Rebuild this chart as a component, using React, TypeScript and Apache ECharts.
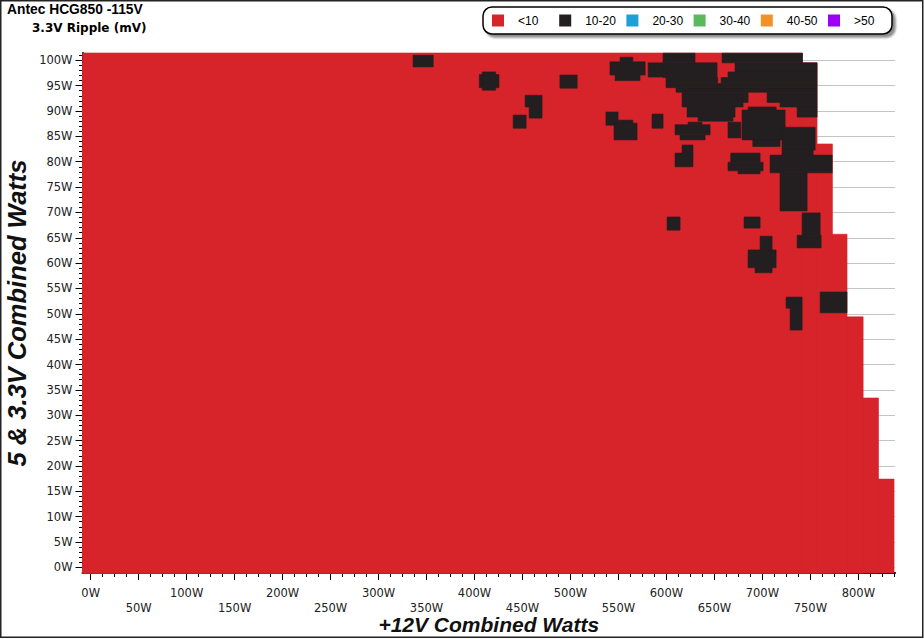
import React, { useEffect, useRef } from "react";
import * as echarts from "echarts";

// ---- axis ranges (watts) ----
const X_MIN = -8.5;
const X_MAX = 838.2;
const Y_MIN = -1.12;
const Y_MAX = 101.44;

// ---- tick labels ----
const xTickValues = [0, 50, 100, 150, 200, 250, 300, 350, 400, 450, 500, 550, 600, 650, 700, 750, 800];
const yTickValues = [0, 5, 10, 15, 20, 25, 30, 35, 40, 45, 50, 55, 60, 65, 70, 75, 80, 85, 90, 95, 100];
const xMinorStep = 12.5;
const yMinorStep = 1;

// ---- legend categories ----
const categories = ["<10", "10-20", "20-30", "30-40", "40-50", ">50"];
const categoryColors = ["#d6242a", "#231f20", "#1ba1d8", "#5cb85c", "#f0922a", "#9c00f5"];

// ---- "<10" region: staircase (top of each band in W, right edge in W) ----
const redStepTop = [17.4, 33.4, 49.4, 65.7, 83.5, 99.5, 101.44];
const redStepMaxX = [837.2, 821, 805, 788.2, 773, 757, 741.8];

// ---- "10-20" cells: [x0, x1, y0, y1] in watts ----
const blackCells = [
  [336, 357, 98.7, 101.0],
  [405, 425.5, 94.6, 97.2],
  [408, 422, 94.1, 97.7],
  [489, 507, 94.5, 97.1],
  [452.8, 470.4, 90.8, 93.1],
  [457, 470.4, 88.6, 90.8],
  [440.3, 453.8, 86.6, 89.2],
  [551.7, 565, 99.7, 100.6],
  [541.2, 577.8, 97.1, 99.7],
  [546.5, 572.5, 96.0, 97.1],
  [581, 600, 96.7, 99.5],
  [596.5, 629.8, 99.5, 101.4],
  [658, 741.8, 99.5, 101.4],
  [596.5, 652.8, 96.6, 99.5],
  [671.5, 757, 97.7, 99.5],
  [664.2, 757, 96.6, 97.7],
  [599.6, 653.5, 95.4, 96.6],
  [657, 757, 95.4, 96.6],
  [599.6, 757, 94.6, 95.4],
  [610, 757, 93.7, 94.6],
  [616.3, 685.1, 91.7, 93.7],
  [704.9, 757, 91.7, 93.7],
  [616.3, 679.9, 90.8, 91.7],
  [718.4, 757, 90.8, 91.7],
  [621.5, 671.5, 88.8, 90.8],
  [736.2, 757, 88.8, 90.8],
  [633, 669.4, 88.0, 88.8],
  [685.1, 714.3, 90.2, 90.8],
  [678.8, 723.7, 84.3, 90.2],
  [690, 718.4, 83.0, 84.3],
  [664.2, 677.5, 84.7, 87.8],
  [720.5, 755, 82.3, 86.8],
  [720.5, 752.9, 81.3, 82.3],
  [708, 772.7, 77.8, 81.3],
  [718.4, 746.6, 70.3, 77.8],
  [667, 697.6, 79.9, 81.7],
  [664.2, 700.7, 78.2, 79.9],
  [674.6, 697.6, 77.6, 78.2],
  [616.3, 627.7, 81.7, 83.3],
  [609, 627.7, 79, 81.7],
  [622.6, 637.1, 87.3, 87.8],
  [609, 645.5, 85.3, 87.3],
  [614.2, 640.3, 84.3, 85.3],
  [585, 596.5, 86.6, 89.4],
  [537, 549.6, 87.2, 89.8],
  [545.4, 569.4, 84.3, 87.6],
  [550, 565, 87.6, 88.2],
  [600.7, 614.2, 66.5, 69.1],
  [680.9, 697.6, 66.9, 69.1],
  [741.4, 760.2, 65.5, 69.9],
  [736.2, 761.2, 63, 65.5],
  [697.6, 710.1, 62.6, 65.3],
  [685.1, 714.3, 59.1, 62.6],
  [692.4, 710.1, 58.1, 59.1],
  [724.7, 741.4, 51.1, 53.3],
  [728.9, 741.4, 46.8, 51.1],
  [760.2, 788.2, 50.2, 54.3],
];

function minorTicks(step: number, max: number) {
  const out: number[] = [];
  for (let v = 0; v <= max + 1e-9; v += step) out.push(Math.round(v * 100) / 100);
  return out;
}

function rectRenderer(color: string) {
  return (params: any, api: any) => {
    const a = api.coord([api.value(0), api.value(3)]);
    const b = api.coord([api.value(1), api.value(2)]);
    return {
      type: "rect",
      shape: { x: a[0], y: a[1], width: b[0] - a[0], height: b[1] - a[1] },
      style: { fill: color, stroke: color, lineWidth: 0.6 },
    };
  };
}

export default function App() {
  const ref = useRef<HTMLDivElement>(null);

  useEffect(() => {
    if (!ref.current) return;
    const chart = echarts.init(ref.current, undefined, { renderer: "svg" });

    // each band drawn from the bottom of the plot up to its top, so bands overlap (no seams)
    const redRows = redStepTop.map((top, i) => [X_MIN, redStepMaxX[i], Y_MIN, top]);

    const tickFont = {
      fontFamily: "DejaVu Sans",
      fontSize: 11.5,
      color: "#222",
    };
    const nameFont = {
      fontFamily: "Liberation Sans",
      fontStyle: "italic",
      fontWeight: "bold",
      color: "#111",
    };

    const series: any[] = categories.map((name, i) => {
      const base: any = {
        name,
        type: "custom",
        xAxisIndex: 0,
        yAxisIndex: 0,
        itemStyle: { color: categoryColors[i] },
        encode: { x: [0, 1], y: [2, 3] },
        silent: true,
        z: 2 + i,
      };
      if (i === 0) {
        base.data = redRows;
        base.renderItem = rectRenderer(categoryColors[0]);
      } else if (i === 1) {
        base.data = blackCells;
        base.renderItem = rectRenderer(categoryColors[1]);
      } else {
        base.data = [];
        base.renderItem = () => null;
      }
      return base;
    });

    // legend drawn as graphic elements (fixed pitch like the reference)
    const LEG_X = 483;
    const LEG_Y = 7;
    const LEG_W = 409;
    const LEG_H = 27;
    const pitch = 67.2;
    const legendChildren: any[] = [
      {
        type: "rect",
        shape: { x: LEG_X, y: LEG_Y, width: LEG_W, height: LEG_H, r: 9 },
        style: {
          fill: "#fff",
          stroke: "#000",
          lineWidth: 1.5,
          shadowColor: "rgba(0,0,0,0.45)",
          shadowOffsetX: 3,
          shadowOffsetY: 3,
          shadowBlur: 2,
        },
      },
    ];
    categories.forEach((name, i) => {
      const sx = LEG_X + 9 + i * pitch;
      legendChildren.push({
        type: "rect",
        shape: { x: sx, y: LEG_Y + 7.5, width: 12, height: 12 },
        style: { fill: categoryColors[i] },
      });
      legendChildren.push({
        type: "text",
        x: sx + 26,
        y: LEG_Y + LEG_H / 2,
        style: {
          text: name,
          font: '12px "Liberation Sans"',
          fill: "#000",
          verticalAlign: "middle",
          align: "left",
        },
      });
    });

    chart.setOption({
      animation: false,
      backgroundColor: "#ffffff",
      grid: {
        left: 82.5,
        right: 29,
        top: 53,
        bottom: 66,
        containLabel: false,
        outerBoundsMode: "none",
      },
      xAxis: [
        {
          type: "value",
          min: X_MIN,
          max: X_MAX,
          position: "bottom",
          offset: 0,
          axisLine: { show: true, onZero: false, lineStyle: { color: "#000", width: 2 } },
          axisTick: { show: true, customValues: xTickValues, length: 7, lineStyle: { color: "#000", width: 1 } },
          axisLabel: {
            show: true,
            customValues: xTickValues,
            margin: 12,
            lineHeight: 15,
            ...tickFont,
            formatter: (v: number) => (v % 100 === 0 ? `${v}W` : `\n${v}W`),
          },
          splitLine: { show: false },
          name: "+12V Combined Watts",
          nameLocation: "middle",
          nameGap: 41,
          nameMoveOverlap: false,
          nameTextStyle: { ...nameFont, fontSize: 21 },
        },
        {
          type: "value",
          min: X_MIN,
          max: X_MAX,
          position: "bottom",
          offset: 0,
          axisLine: { show: false, onZero: false },
          axisTick: { show: true, customValues: minorTicks(xMinorStep, 837.5), length: 4, lineStyle: { color: "#000", width: 1 } },
          axisLabel: { show: false },
          splitLine: { show: false },
        },
      ],
      yAxis: [
        {
          type: "value",
          min: Y_MIN,
          max: Y_MAX,
          position: "left",
          offset: 0,
          axisLine: { show: true, onZero: false, lineStyle: { color: "#000", width: 2 } },
          axisTick: { show: true, customValues: yTickValues, length: 7, lineStyle: { color: "#000", width: 1 } },
          axisLabel: {
            show: true,
            customValues: yTickValues,
            margin: 10,
            ...tickFont,
            formatter: (v: number) => `${v}W`,
          },
          splitLine: { show: true, lineStyle: { color: "#c4c4c4", width: 1 } },
          name: "5 & 3.3V Combined Watts",
          nameLocation: "middle",
          nameGap: 53,
          nameMoveOverlap: false,
          nameTextStyle: { ...nameFont, fontSize: 25.5 },
        },
        {
          type: "value",
          min: Y_MIN,
          max: Y_MAX,
          position: "left",
          offset: 0,
          axisLine: { show: false, onZero: false },
          axisTick: { show: true, customValues: minorTicks(yMinorStep, 101), length: 3.5, lineStyle: { color: "#000", width: 1 } },
          axisLabel: { show: false },
          splitLine: { show: false },
        },
      ],
      graphic: [
        {
          type: "rect",
          silent: true,
          z: 100,
          shape: { x: 0.75, y: 0.75, width: 922, height: 636.5 },
          style: { fill: "none", stroke: "#222", lineWidth: 1.5 },
        },
        {
          type: "group",
          silent: true,
          z: 100,
          children: legendChildren,
        },
        {
          type: "text",
          left: 7,
          top: 2,
          z: 100,
          style: {
            text: "Antec HCG850 -115V",
            font: 'bold 13.8px "Liberation Sans"',
            fill: "#000",
          },
        },
        {
          type: "text",
          left: 32,
          top: 22,
          z: 100,
          style: {
            text: "3.3V Ripple (mV)",
            font: 'bold 12px "DejaVu Sans"',
            fill: "#000",
          },
        },
      ],
      series,
    });

    return () => chart.dispose();
  }, []);

  return (
    <div
      ref={ref}
      style={{ position: "fixed", left: 0, top: 0, width: 924, height: 639, background: "#fff" }}
    />
  );
}
